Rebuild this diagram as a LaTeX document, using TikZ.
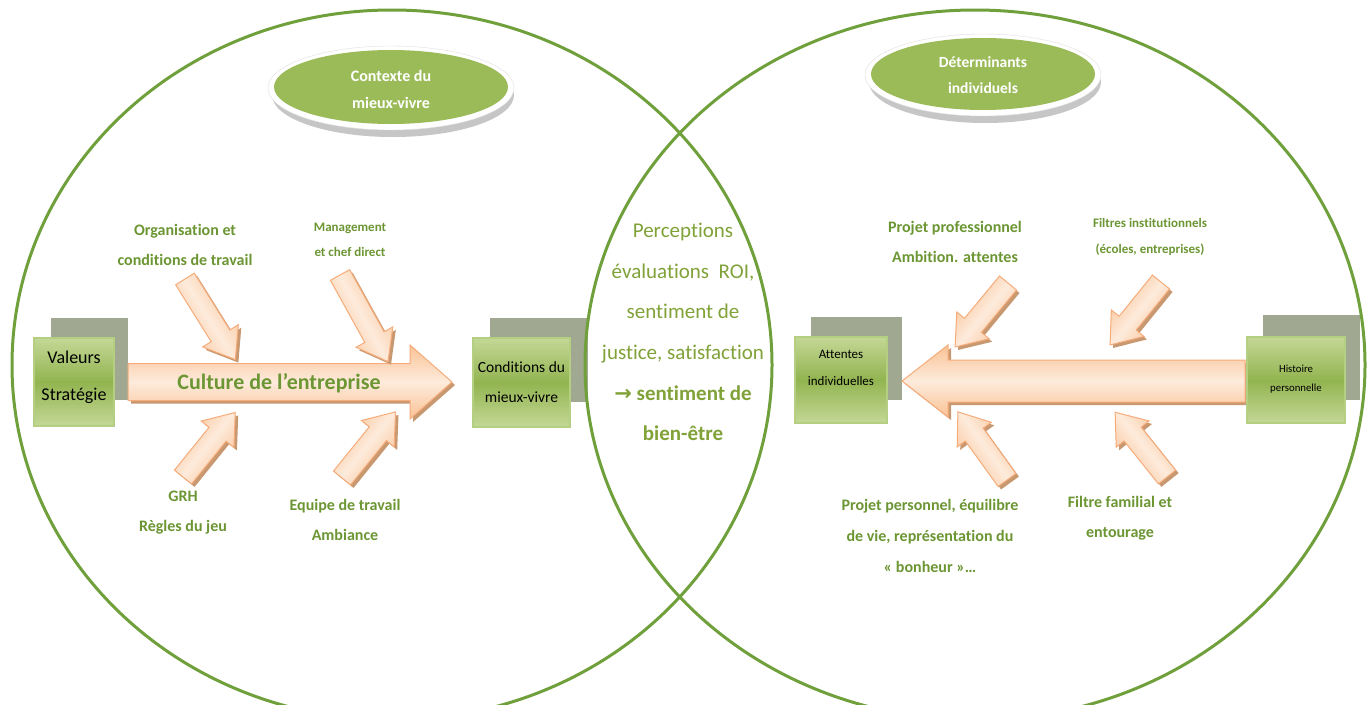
\documentclass[tikz,border=0pt]{standalone}
\usepackage{fontspec}
\setmainfont{Carlito}[Ligatures=NoCommon]
\newfontfamily\symbfont{DejaVu Sans}

\definecolor{ringgreen}{RGB}{112,160,60}
\definecolor{labelgreen}{RGB}{108,150,52}
\definecolor{midgreen}{RGB}{128,162,56}
\definecolor{boxgreen}{RGB}{146,180,80}
\definecolor{boxlight}{RGB}{196,216,150}
\definecolor{boxedge}{RGB}{180,206,130}
\definecolor{backgray}{RGB}{160,168,145}
\definecolor{ovalgreen}{RGB}{155,187,89}
\definecolor{peach}{RGB}{250,194,148}
\definecolor{peachlight}{RGB}{253,235,220}
\definecolor{peachedge}{RGB}{246,172,122}
\definecolor{peachshadow}{RGB}{200,152,112}

\tikzset{
  ring/.style={draw=ringgreen, line width=3pt},
  greenbox/.style={draw=boxedge, line width=1.5pt, top color=boxlight, bottom color=boxlight, middle color=boxgreen},
  boxtext/.style={align=center, text=black},
  label/.style={align=center, text=labelgreen, font=\bfseries\fontsize{16}{30}\selectfont},
  smalllabel/.style={align=center, text=labelgreen, font=\bfseries\fontsize{13}{25}\selectfont},
  ovaltext/.style={align=center, text=white, font=\bfseries\fontsize{16}{27}\selectfont},
}

% tail x, tail y, angle, length, shaft half width, head half width, head length
\newcommand{\peacharrow}[7]{%
  \begin{scope}[shift={(#1+3,#2+3)}, rotate=#3]
    \fill[peachshadow] (0,-#5) -- (#4-#7,-#5) -- (#4-#7,-#6) -- (#4,0) -- (#4-#7,#6) -- (#4-#7,#5) -- (0,#5) -- cycle;
  \end{scope}
  \begin{scope}[shift={(#1,#2)}, rotate=#3]
    \shadedraw[draw=peachedge, line width=1pt, top color=peach, bottom color=peach, middle color=peachlight, shading angle=#3]
      (0,-#5) -- (#4-#7,-#5) -- (#4-#7,-#6) -- (#4,0) -- (#4-#7,#6) -- (#4-#7,#5) -- (0,#5) -- cycle;
  \end{scope}}

\begin{document}
\begin{tikzpicture}[x=1pt, y=-1pt]
  \useasboundingbox (0,0) rectangle (1372,704);
  \clip (0,0) rectangle (1372,704);
  \fill[white] (0,0) rectangle (1372,704);

  % back boxes
  \fill[backgray] (51,318) rectangle (128,400);
  \fill[backgray] (490,318) rectangle (588,402);
  \fill[backgray] (811,317) rectangle (902,400);
  \fill[backgray] (1263,315) rectangle (1360,400);

  % the two circles
  \draw[ring] (392,365) ellipse [x radius=380, y radius=355];
  \draw[ring] (975,365) ellipse [x radius=390, y radius=355];

  % top ovals
  \fill[gray!45] (393,95) ellipse [x radius=121, y radius=42];
  \filldraw[fill=white, draw=gray!25] (391,88) ellipse [x radius=123, y radius=42];
  \fill[ovalgreen] (391,87) ellipse [x radius=117, y radius=37];
  \node[ovaltext] (contexte) at (391,89) {Contexte du\\mieux-vivre};

  \fill[gray!45] (985,82) ellipse [x radius=116, y radius=41];
  \filldraw[fill=white, draw=gray!25] (983,75) ellipse [x radius=118, y radius=41];
  \fill[ovalgreen] (983,74) ellipse [x radius=112, y radius=36];
  \node[ovaltext, font=\bfseries\fontsize{15.5}{26}\selectfont] (determinants) at (983,75) {Déterminants\\individuels};

  % big arrows
  \peacharrow{128}{382}{0}{324}{18.5}{37}{42}
  \node[text=labelgreen, font=\bfseries\fontsize{22}{26}\selectfont] (culture) at (279,383) {Culture de l’entreprise};
  \peacharrow{1245}{381}{180}{343}{21}{36}{46}

  % small arrows, left side
  \peacharrow{185}{279}{-58}{95}{11}{21}{28}
  \peacharrow{340}{275}{-61}{99}{11}{21}{28}
  \peacharrow{183}{477}{51}{83}{11}{21}{28}
  \peacharrow{342}{478}{51}{85}{11}{21}{28}

  % small arrows, right side
  \peacharrow{1008}{283}{-129.6}{83}{11}{21}{28}
  \peacharrow{1161}{282}{-129}{81}{11}{21}{28}
  \peacharrow{1007}{480}{125.8}{84}{11}{21}{28}
  \peacharrow{1167}{477}{128.7}{83}{11}{21}{28}

  % green boxes
  \node[greenbox, minimum width=80, minimum height=88] (valeurs) at (74,382) {};
  \node[boxtext, font=\fontsize{18}{37}\selectfont] (valeurs-t) at (74,377) {Valeurs\\Stratégie};
  \node[greenbox, minimum width=97, minimum height=89] (conditions) at (521.5,382.5) {};
  \node[boxtext, font=\fontsize{15.5}{30}\selectfont] (conditions-t) at (521.5,382) {Conditions du\\mieux-vivre};
  \node[greenbox, minimum width=92, minimum height=86] (attentes) at (841,380) {};
  \node[boxtext, font=\fontsize{13}{27}\selectfont] (attentes-t) at (841,368) {Attentes\\individuelles};
  \node[greenbox, minimum width=98, minimum height=86] (histoire) at (1296,380) {};
  \node[boxtext, font=\fontsize{10.8}{19}\selectfont] (histoire-t) at (1296,379) {Histoire\\personnelle};

  % labels
  \node[label] (organisation) at (185,245) {Organisation et\\conditions de travail};
  \node[smalllabel] (management) at (350,240) {Management\\et chef direct};
  \node[label] (grh) at (183,513) {GRH\\Règles du jeu};
  \node[label] (equipe) at (345,520) {Equipe de travail\\Ambiance};
  \node[label] (projetpro) at (955,242) {Projet professionnel\\Ambition. attentes};
  \node[smalllabel, font=\bfseries\fontsize{13}{26}\selectfont] (filtres) at (1150,237) {Filtres institutionnels\\(écoles, entreprises)};
  \node[label, font=\bfseries\fontsize{16}{31}\selectfont] (projetperso) at (930,536) {Projet personnel, équilibre\\de vie, représentation du\\« bonheur »…};
  \node[label] (familial) at (1120,518) {Filtre familial et\\entourage};

  % middle text
  \node[align=center, text=midgreen, font=\fontsize{21}{40.6}\selectfont] (perceptions) at (683,332)
    {Perceptions\\évaluations~~ROI,\\sentiment de\\justice, satisfaction\\\textbf{{\symbfont →} sentiment de}\\\textbf{bien-être}};
\end{tikzpicture}
\end{document}
